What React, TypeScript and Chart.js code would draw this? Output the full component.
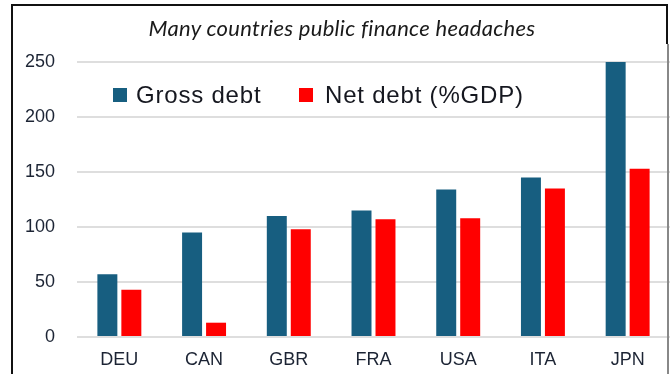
import React, { useEffect, useRef } from "react";
import { Chart, registerables } from "chart.js";

Chart.register(...registerables);

// Debt ratios by country, % of GDP
const countries = ["DEU", "CAN", "GBR", "FRA", "USA", "ITA", "JPN"];
const grossDebt = [57, 95, 110, 115, 134, 145, 250];
const netDebt = [43, 13, 98, 107, 108, 135, 153];
const seriesNames = ["Gross debt", "Net debt (%GDP)"];
const seriesColors = ["#175e80", "#ff0000"];
const titleText = "Many countries public finance headaches";

const W = 672;
const H = 374;

export default function App() {
  const canvasRef = useRef<HTMLCanvasElement | null>(null);

  useEffect(() => {
    if (!canvasRef.current) return;
    const chart = new Chart(canvasRef.current, {
      type: "bar",
      data: {
        labels: countries,
        datasets: [
          {
            label: seriesNames[0],
            data: grossDebt,
            backgroundColor: seriesColors[0],
            borderWidth: 0,
            categoryPercentage: 0.566,
            barPercentage: 0.833,
          },
          {
            label: seriesNames[1],
            data: netDebt,
            backgroundColor: seriesColors[1],
            borderWidth: 0,
            categoryPercentage: 0.566,
            barPercentage: 0.833,
          },
        ],
      },
      options: {
        responsive: false,
        animation: false,
        devicePixelRatio: 1,
        layout: { padding: { top: 62, right: 2, left: 0, bottom: 0 } },
        plugins: {
          legend: { display: false },
          title: { display: false },
          tooltip: { enabled: false },
        },
        scales: {
          x: {
            grid: { display: false, drawTicks: false },
            border: { display: false },
            ticks: {
              padding: 12,
              color: "#1c2434",
              font: { family: "'Liberation Sans', Arial, sans-serif", size: 18 },
            },
            afterFit: (scale: any) => {
              scale.height = 37;
            },
          },
          y: {
            min: 0,
            max: 250,
            grid: { color: "#dedede", lineWidth: 2, drawTicks: false },
            border: { display: false },
            ticks: {
              stepSize: 50,
              padding: 22,
              color: "#1c2434",
              font: { family: "'Liberation Sans', Arial, sans-serif", size: 18 },
            },
            afterFit: (scale: any) => {
              scale.width = 77;
            },
          },
        },
      },
    });
    return () => chart.destroy();
  }, []);

  const legendFont: React.CSSProperties = {
    fontFamily: "'Liberation Sans', Arial, sans-serif",
    fontSize: 24,
    letterSpacing: 0.8,
    color: "#15171f",
    whiteSpace: "nowrap",
    position: "absolute",
    top: 81,
    lineHeight: "28px",
  };

  return (
    <div style={{ position: "absolute", left: 0, top: 0, width: W, height: H, overflow: "hidden", background: "#fff" }}>
      <canvas ref={canvasRef} width={W} height={H} style={{ position: "absolute", left: 0, top: 0, width: W, height: H }} />
      {/* frame lines */}
      <div style={{ position: "absolute", left: 11, top: 4, width: 2, height: H, background: "#111" }} />
      <div style={{ position: "absolute", left: 11, top: 4, width: 657, height: 2, background: "#111" }} />
      <div style={{ position: "absolute", left: 666, top: 4, width: 2, height: 40, background: "#111" }} />
      <div style={{ position: "absolute", left: 667, top: 44, width: 1.5, height: H, background: "#888" }} />
      {/* title */}
      <div
        style={{
          position: "absolute",
          left: 0,
          width: 684,
          top: 14,
          textAlign: "center",
          fontFamily: "Lato, 'Open Sans', sans-serif",
          fontStyle: "italic",
          fontWeight: 400,
          fontSize: 22,
          letterSpacing: 0.3,
          color: "#1a1a1a",
          lineHeight: "28px",
        }}
      >
        {titleText}
      </div>
      {/* legend */}
      <div style={{ position: "absolute", left: 113, top: 88, width: 14, height: 14, background: seriesColors[0] }} />
      <div style={{ ...legendFont, left: 136 }}>{seriesNames[0]}</div>
      <div style={{ position: "absolute", left: 299, top: 88, width: 14, height: 14, background: seriesColors[1] }} />
      <div style={{ ...legendFont, left: 325 }}>{seriesNames[1]}</div>
    </div>
  );
}
